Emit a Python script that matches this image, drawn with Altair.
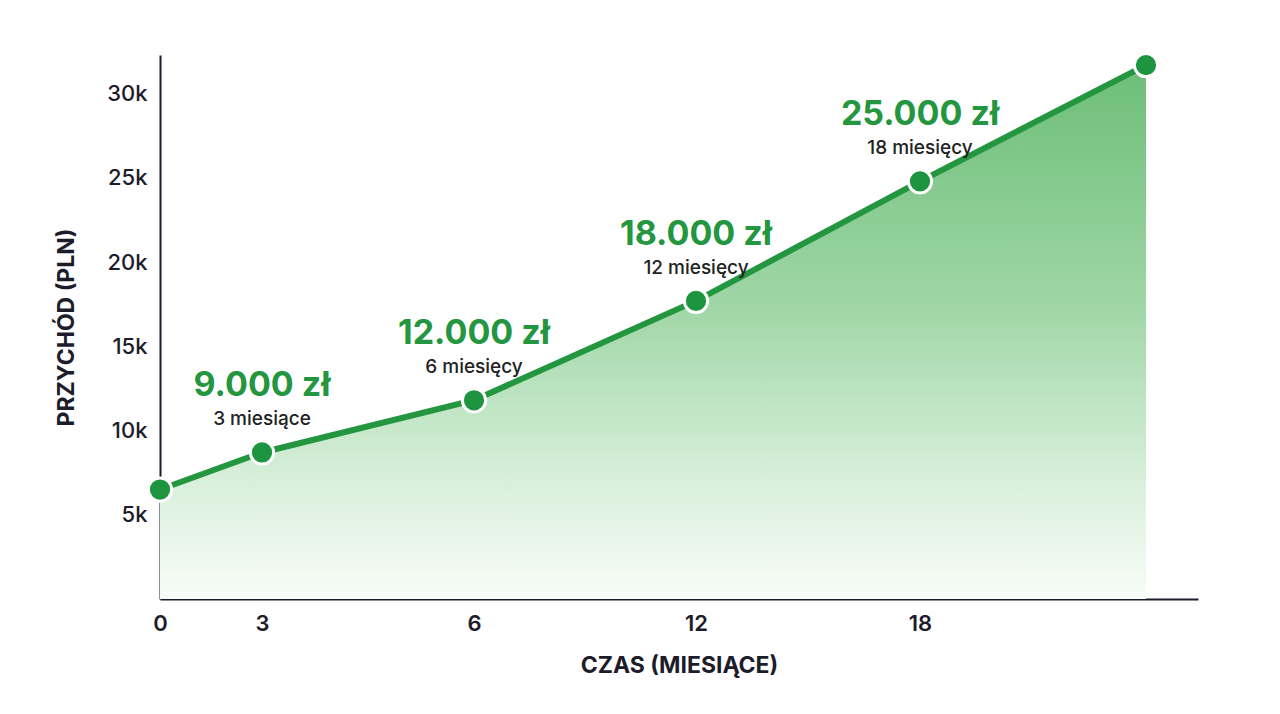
import altair as alt
import pandas as pd

# ---- data ----
months = [0, 3, 6, 12, 18, 24]
revenue = [6500, 8700, 11800, 17700, 24800, 31700]
tick_months = [0, 3, 6, 12, 18]
y_ticks = [5000, 10000, 15000, 20000, 25000, 30000]
label_months = [3, 6, 12, 18]
label_amounts = ["9.000 zł", "12.000 zł", "18.000 zł", "25.000 zł"]
label_periods = ["3 miesiące", "6 miesięcy", "12 miesięcy", "18 miesięcy"]

df = pd.DataFrame({"month": months, "revenue": revenue})
lab = pd.DataFrame({"month": label_months, "amount": label_amounts, "period": label_periods})
lab["revenue"] = [revenue[months.index(m)] for m in label_months]

FONT = "Inter"
GREEN = "#23963f"
DARK = "#1c1c2b"

x_scale = alt.Scale(domain=[0, 3, 6, 12, 18, 24, 25.5],
                    range=[0, 102, 314, 536, 760, 986, 1038])
y_scale = alt.Scale(domain=[0, 32300], nice=False, zero=True)

x_enc = alt.X("month:Q", scale=x_scale,
              axis=alt.Axis(values=tick_months, title="CZAS (MIESIĄCE)", grid=False,
                            ticks=False, domainColor=DARK, domainWidth=2,
                            labelFontSize=22, labelFontWeight=600, labelColor=DARK,
                            labelPadding=14, titleFontSize=23, titleFontWeight="bold",
                            titleColor=DARK, titlePadding=20, labelFlush=False))
y_enc = alt.Y("revenue:Q", scale=y_scale,
              axis=alt.Axis(values=y_ticks, title="PRZYCHÓD (PLN)", grid=False,
                            ticks=False, domainColor=DARK, domainWidth=2,
                            labelExpr="datum.value / 1000 + 'k'",
                            labelFontSize=22, labelFontWeight=500, labelColor=DARK,
                            labelPadding=13, titleFontSize=23, titleFontWeight="bold",
                            titleColor=DARK, titlePadding=28))

base = alt.Chart(df)

area = base.mark_area(
    color=alt.Gradient(
        gradient="linear", x1=0, y1=0, x2=0, y2=1,
        stops=[alt.GradientStop(color="#6cbe77", offset=0),
               alt.GradientStop(color="#9fd6a6", offset=0.45),
               alt.GradientStop(color="#dcf1de", offset=0.8),
               alt.GradientStop(color="#f8fcf8", offset=1)]),
    opacity=1,
).encode(x=x_enc, y=y_enc)

line = base.mark_line(color=GREEN, strokeWidth=6).encode(x="month:Q", y="revenue:Q")

points = base.mark_point(filled=True, shape="circle", size=540, fill="#1f9440",
                         stroke="white", strokeWidth=3, opacity=1).encode(
    x="month:Q", y="revenue:Q")

amount_text = alt.Chart(lab).mark_text(
    font=FONT, fontSize=34, fontWeight="bold", color=GREEN, dy=-66, baseline="middle"
).encode(x="month:Q", y="revenue:Q", text="amount:N")

period_text = alt.Chart(lab).mark_text(
    font=FONT, fontSize=19, fontWeight=500, color="#222222", dy=-33, baseline="middle"
).encode(x="month:Q", y="revenue:Q", text="period:N")

chart = alt.layer(area, line, points, amount_text, period_text).properties(
    width=1038, height=544,
    autosize=alt.AutoSizeParams(type="none"),
    padding={"left": 152, "top": 47, "right": 74, "bottom": 100},
    background="white",
).configure(font=FONT).configure_view(strokeWidth=0, stroke="transparent")

chart.save("out.html", embed_options={"renderer": "svg", "actions": False})
